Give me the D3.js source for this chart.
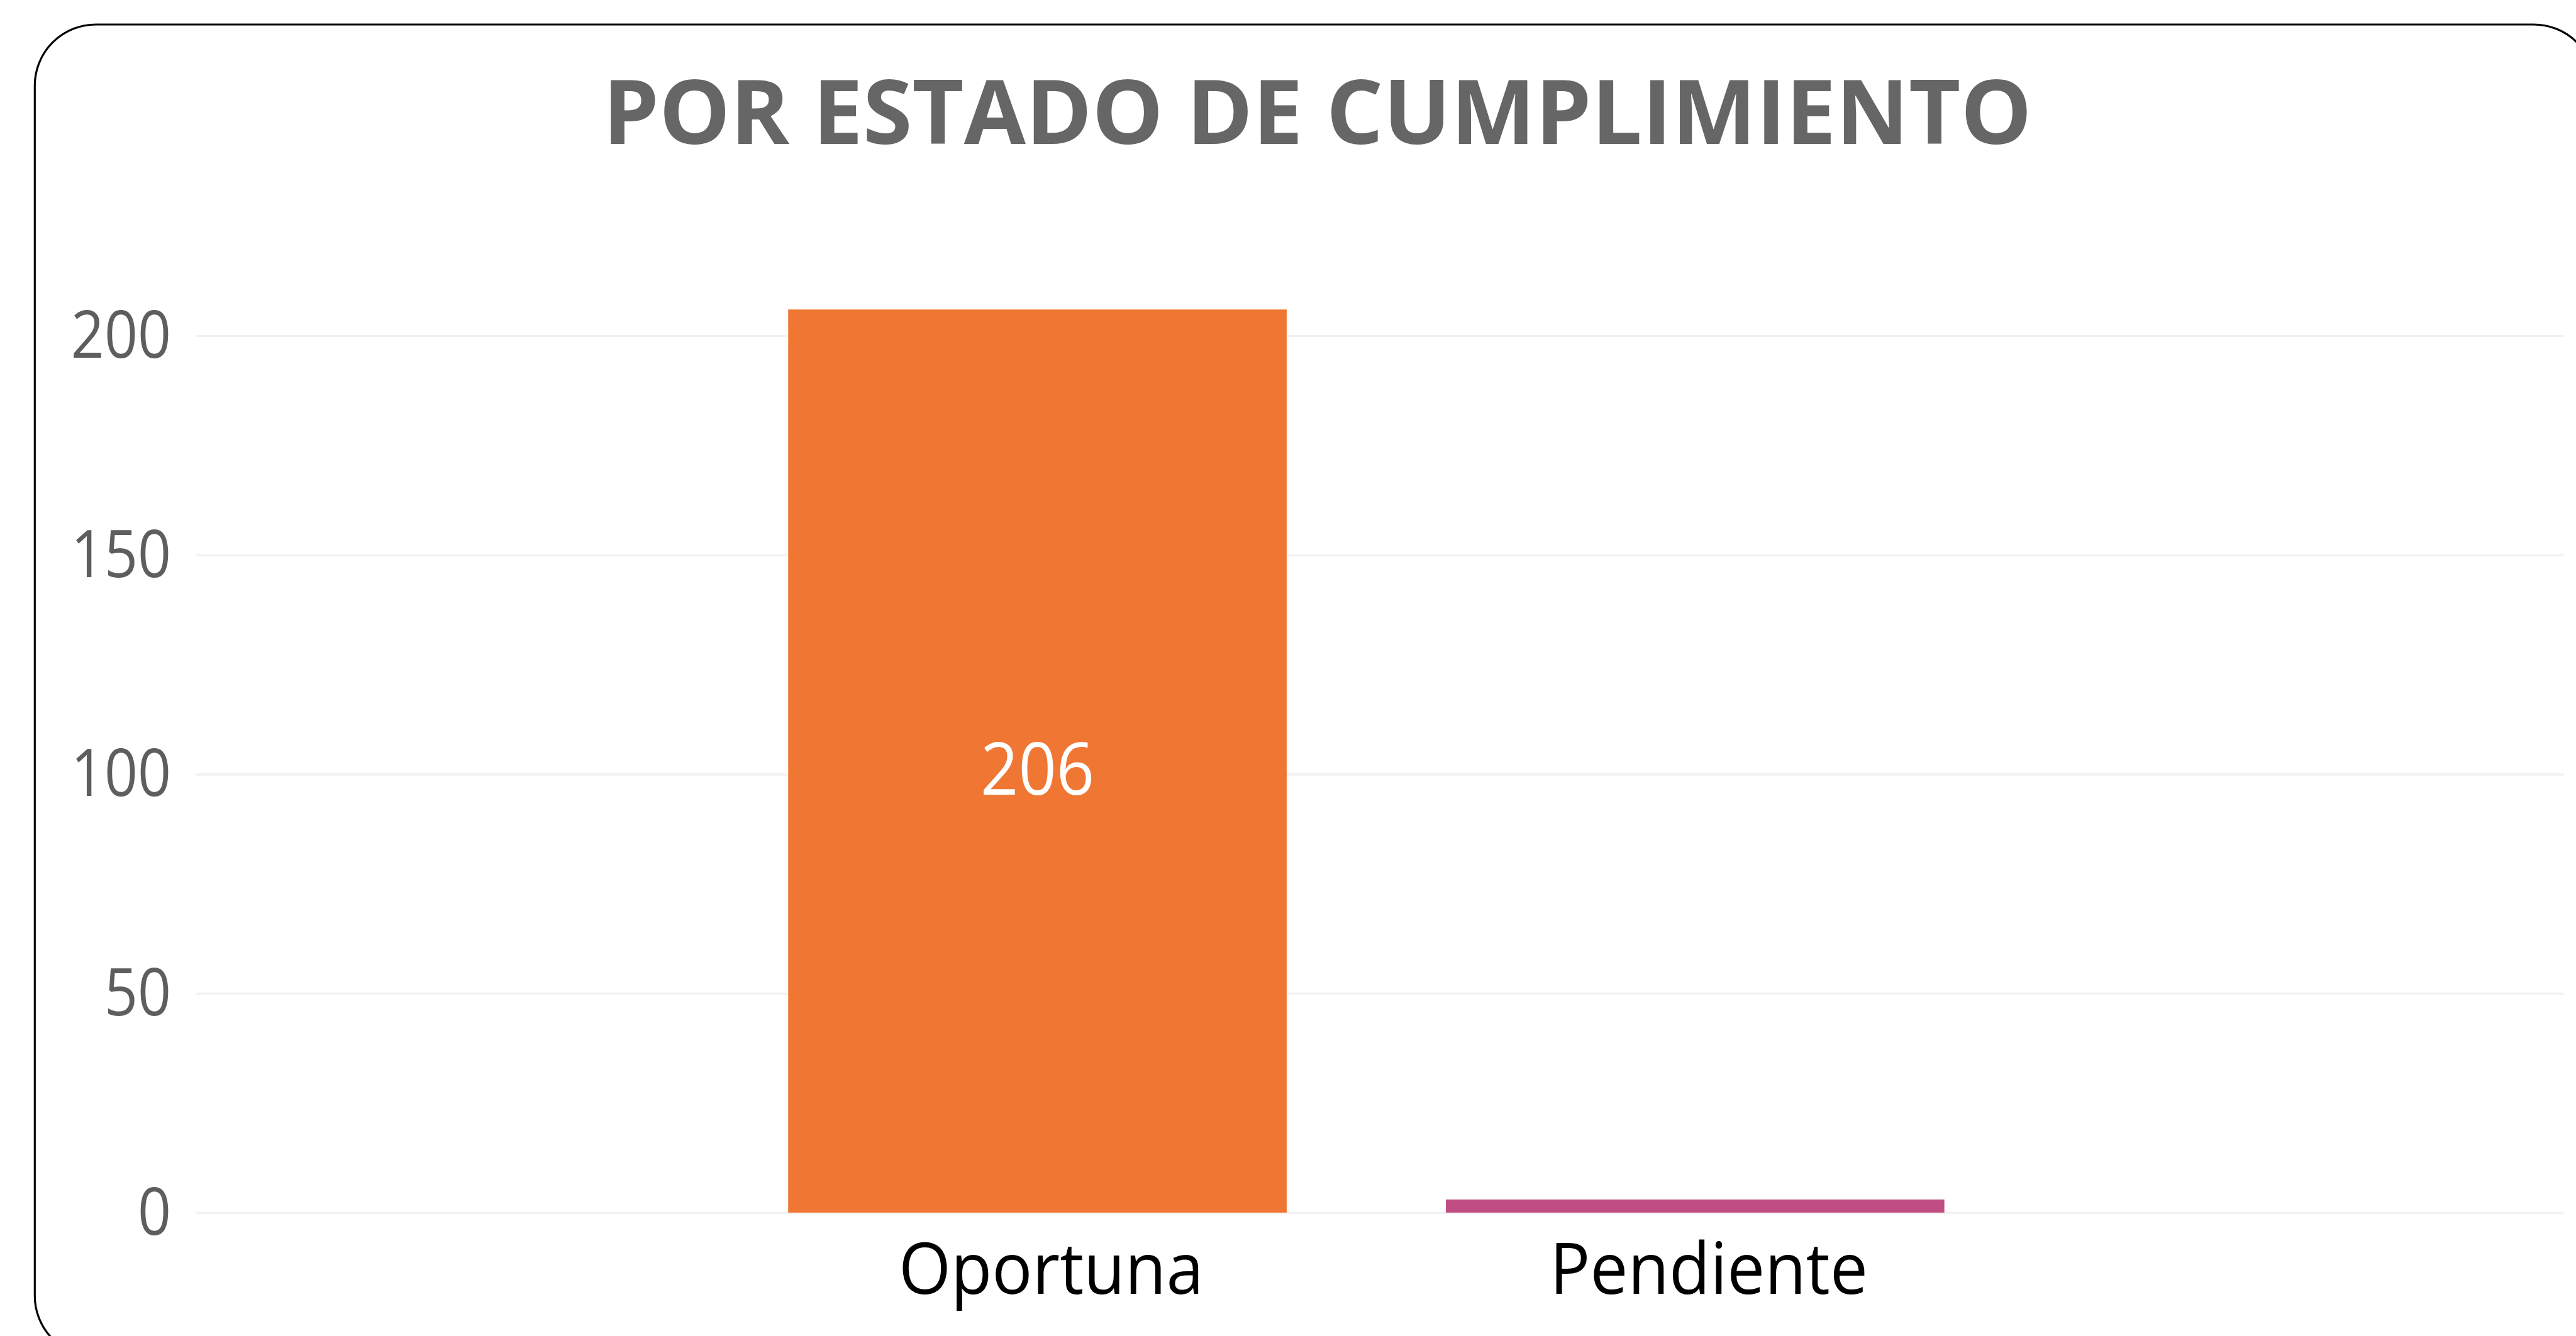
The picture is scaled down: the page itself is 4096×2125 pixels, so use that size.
<!DOCTYPE html>
<html>
<head>
<meta charset="utf-8">
<script src="https://cdn.jsdelivr.net/npm/d3@7"></script>
<style>
  html, body { margin: 0; padding: 0; background: #fff; overflow: hidden; }
  svg { display: block; }
</style>
</head>
<body>
<svg id="chart"></svg>
<script>
let categories = ["Oportuna", "Pendiente"];
let values = [206, 3];
let barColors = ["#EF7733", "#C14E83"];
let yTicks = [0, 50, 100, 150, 200];
let title = "POR ESTADO DE CUMPLIMIENTO";

let W = 4096, H = 2125;
let s = W / 4517; // everything laid out in reference pixels, then scaled
let font_family = "'Segoe UI', 'Open Sans', 'Noto Sans', sans-serif";
let textGrey = "#605E5C", gridColor = "#F3F2F1";

// Open Sans runs a bit wider than Segoe UI, so pull the glyphs in
function squeeze(sel, k) {
  sel.each(function() {
    let len = this.getComputedTextLength();
    d3.select(this)
      .attr("textLength", len * k)
      .attr("lengthAdjust", "spacingAndGlyphs");
  });
}

let svg = d3.select("#chart")
    .attr("width", W)
    .attr("height", H);

let g = svg.append("g")
    .attr("transform", `scale(${s})`);

// card border, runs past the right and bottom edges
g.append("rect")
  .attr("x", 61)
  .attr("y", 43)
  .attr("width", 4489)
  .attr("height", 2337)
  .attr("rx", 107)
  .attr("ry", 107)
  .attr("fill", "white")
  .attr("stroke", "black")
  .attr("stroke-width", 3.5);

// title
g.append("text")
  .attr("x", 2310)
  .attr("y", 253)
  .attr("text-anchor", "middle")
  .style("font-family", font_family)
  .style("font-weight", "bold")
  .style("font-size", "157px")
  .style("fill", "#666666")
  .text(title);

let plotLeft = 343, plotRight = 4496;
let y = d3.scaleLinear()
    .domain([0, 200])
    .range([2127, 589]);

let x = d3.scaleBand()
    .domain(categories)
    .range([1242.5, 3549])
    .paddingInner(0.242)
    .paddingOuter(0.121);

// y axis with gridlines
let yAxis = g.append("g")
    .attr("transform", `translate(${plotLeft}, 0)`)
    .call(d3.axisLeft(y)
      .tickValues(yTicks)
      .tickSize(-(plotRight - plotLeft))
      .tickPadding(43));

yAxis.select(".domain").remove();
yAxis.selectAll(".tick line")
  .attr("stroke", gridColor)
  .attr("stroke-width", 4);
yAxis.selectAll(".tick text")
  .attr("dy", "0.33em")
  .style("font-family", font_family)
  .style("font-size", "115px")
  .style("fill", textGrey)
  .call(squeeze, 0.89);

// bars
let data = categories.map((c, i) => ({ name: c, value: values[i], color: barColors[i] }));

g.selectAll(".bar")
  .data(data)
  .enter()
  .append("rect")
  .attr("class", "bar")
  .attr("x", d => x(d.name))
  .attr("y", d => y(d.value))
  .attr("width", x.bandwidth())
  .attr("height", d => y(0) - y(d.value))
  .attr("fill", d => d.color);

// data label inside the big bar only
g.selectAll(".value")
  .data(data.filter(d => d.value > 20))
  .enter()
  .append("text")
  .attr("class", "value")
  .attr("x", d => x(d.name) + x.bandwidth() / 2)
  .attr("y", d => (y(d.value) + y(0)) / 2 + 13)
  .attr("dy", "0.357em")
  .attr("text-anchor", "middle")
  .style("font-family", font_family)
  .style("font-size", "128px")
  .style("fill", "white")
  .text(d => d.value)
  .call(squeeze, 0.91);

// category labels
g.selectAll(".cat")
  .data(categories)
  .enter()
  .append("text")
  .attr("class", "cat")
  .attr("x", d => x(d) + x.bandwidth() / 2 + 24)
  .attr("y", 2270)
  .attr("text-anchor", "middle")
  .style("font-family", font_family)
  .style("font-size", "126px")
  .style("fill", "black")
  .text(d => d)
  .call(squeeze, 0.935);
</script>
</body>
</html>
